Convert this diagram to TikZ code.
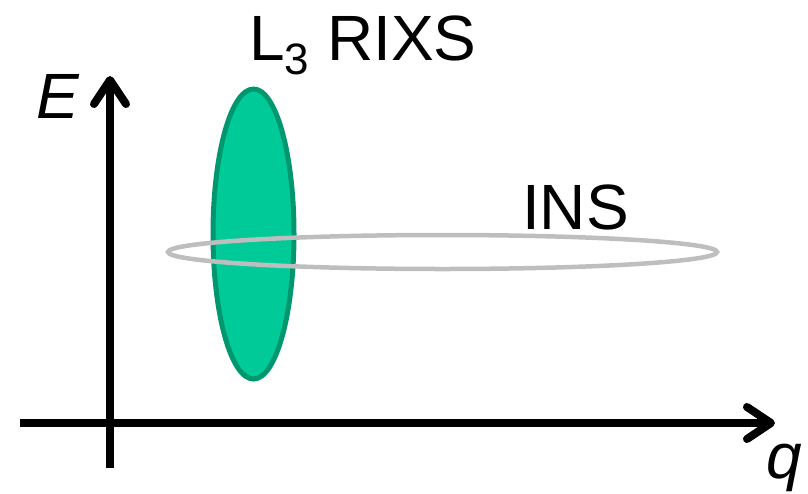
\documentclass[tikz,border=0pt]{standalone}
\usepackage{fontspec}
\setmainfont{Liberation Sans}
\usepackage{tikz}
\usetikzlibrary{arrows.meta}
\definecolor{mygreen}{RGB}{0,203,152}
\definecolor{mygreendark}{RGB}{0,150,110}
\definecolor{mygray}{RGB}{190,190,190}
\tikzset{
  axis/.style={line width=8pt, color=black,
    -{Straight Barb[length=24pt, width=32pt, round]}},
  rixsblob/.style={fill=mygreen, draw=mygreendark, line width=5pt},
  insblob/.style={draw=mygray, line width=4.5pt},
  lbl/.style={inner sep=0pt, anchor=base west, font=\fontsize{64}{64}\selectfont}
}

\begin{document}
\begin{tikzpicture}[x=1pt, y=-1pt]
  \useasboundingbox (0,0) rectangle (808,493);
  % Axis end points
  \coordinate (xstart) at (20,423);
  \coordinate (xend) at (775,423);
  \coordinate (ystart) at (110,468);
  \coordinate (yend) at (110,76);
  % RIXS window
  \coordinate (rixs) at (253.5,234);
  \draw[rixsblob] (rixs) ellipse [x radius=40.5pt, y radius=145pt];
  % INS window
  \coordinate (ins) at (442.5,252);
  \draw[insblob] (ins) ellipse [x radius=274.5pt, y radius=17pt];
  % Axes
  \draw[axis] (xstart) -- (xend);
  \draw[axis] (ystart) -- (yend);
  % Labels
  \node[lbl] (rixslabel) at (249,60) {L\raisebox{-14pt}{\fontsize{44}{44}\selectfont 3} RIXS};
  \node[lbl] (inslabel) at (522,229) {INS};
  \node[lbl] (elabel) at (36,118) {\itshape E};
  \node[lbl] (qlabel) at (766,478) {\itshape q};
\end{tikzpicture}
\end{document}
